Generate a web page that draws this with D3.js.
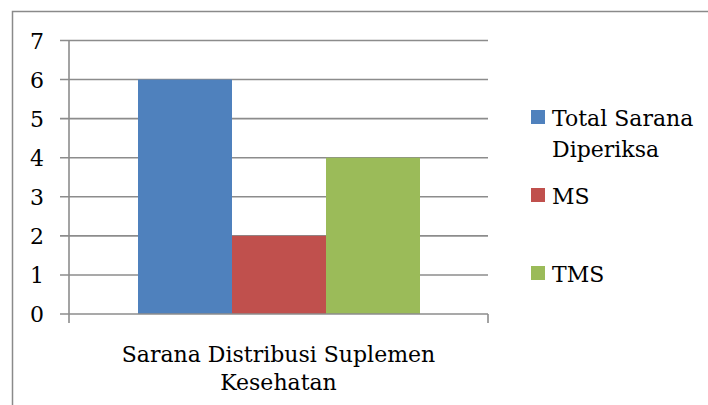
<!DOCTYPE html>
<html>
<head>
<meta charset="utf-8">
<script src="https://cdn.jsdelivr.net/npm/d3@7"></script>
<style>
  html, body { margin: 0; padding: 0; background: #fff; }
  svg text { font-family: "DejaVu Serif", "Liberation Serif", serif; fill: #000; }
</style>
</head>
<body>
<div id="chart"></div>
<script>
// chart data
var category = "Sarana Distribusi Suplemen Kesehatan";
var categoryLines = ["Sarana Distribusi Suplemen", "Kesehatan"];
var seriesNames = ["Total Sarana Diperiksa", "MS", "TMS"];
var legendLines = [["Total Sarana", "Diperiksa"], ["MS"], ["TMS"]];
var seriesValues = [6, 2, 4];
var seriesColors = ["#4f81bd", "#c0504d", "#9bbb59"];
var yTicks = [0, 1, 2, 3, 4, 5, 6, 7];

var width = 708, height = 405;
var plot = {left: 69, right: 488, top: 40.5, bottom: 314};

var svg = d3.select("#chart").append("svg")
    .attr("width", width)
    .attr("height", height);

// outer frame (only top and left visible)
svg.append("path")
    .attr("d", "M12.5,405 L12.5,11.5 L708,11.5")
    .style("fill", "none")
    .style("stroke", "#8a8a8a")
    .style("stroke-width", 1.5);

var y = d3.scaleLinear()
    .domain([0, 7])
    .range([plot.bottom, plot.top]);

var x = d3.scaleBand()
    .domain([category])
    .range([plot.left, plot.right]);

var xs = d3.scaleBand()
    .domain(seriesNames)
    .range([138, 420]);

// gridlines
svg.selectAll(".grid")
    .data(yTicks.filter(function (d) { return d > 0; }))
    .enter().append("line")
    .attr("class", "grid")
    .attr("x1", plot.left - 9)
    .attr("x2", plot.right)
    .attr("y1", function (d) { return y(d); })
    .attr("y2", function (d) { return y(d); })
    .style("stroke", "#8c8c8c")
    .style("stroke-width", 1.6);

// bars
svg.selectAll(".bar")
    .data(seriesValues)
    .enter().append("rect")
    .attr("class", "bar")
    .attr("x", function (d, i) { return xs(seriesNames[i]); })
    .attr("width", xs.bandwidth())
    .attr("y", function (d) { return y(d); })
    .attr("height", function (d) { return y(0) - y(d); })
    .style("fill", function (d, i) { return seriesColors[i]; });

// axes lines
svg.append("line")
    .attr("x1", plot.left).attr("x2", plot.left)
    .attr("y1", plot.top).attr("y2", plot.bottom + 9)
    .style("stroke", "#8c8c8c").style("stroke-width", 1.6);
svg.append("line")
    .attr("x1", plot.left - 9).attr("x2", plot.right)
    .attr("y1", plot.bottom).attr("y2", plot.bottom)
    .style("stroke", "#8c8c8c").style("stroke-width", 1.6);
svg.append("line")
    .attr("x1", plot.right).attr("x2", plot.right)
    .attr("y1", plot.bottom).attr("y2", plot.bottom + 9)
    .style("stroke", "#8c8c8c").style("stroke-width", 1.6);

// y tick labels
svg.selectAll(".ylab")
    .data(yTicks)
    .enter().append("text")
    .attr("class", "ylab")
    .attr("x", 44)
    .attr("y", function (d) { return y(d) + 8; })
    .attr("text-anchor", "end")
    .style("font-size", "22px")
    .text(function (d) { return d; });

// category label
svg.selectAll(".xlab")
    .data(categoryLines)
    .enter().append("text")
    .attr("class", "xlab")
    .attr("x", x(category) + x.bandwidth() / 2)
    .attr("y", function (d, i) { return 362 + i * 28; })
    .attr("text-anchor", "middle")
    .style("font-size", "22px")
    .text(function (d) { return d; });

// legend
var legendY = [110, 188, 266];
var lg = svg.selectAll(".legend")
    .data(seriesNames)
    .enter().append("g")
    .attr("class", "legend")
    .attr("transform", function (d, i) { return "translate(531," + legendY[i] + ")"; });

lg.append("rect")
    .attr("width", 14)
    .attr("height", 14)
    .style("fill", function (d, i) { return seriesColors[i]; });

lg.each(function (d, i) {
    d3.select(this).selectAll("text")
        .data(legendLines[i])
        .enter().append("text")
        .attr("x", 21)
        .attr("y", function (t, j) { return 16 + j * 31; })
        .style("font-size", "22px")
        .text(function (t) { return t; });
});
</script>
</body>
</html>
